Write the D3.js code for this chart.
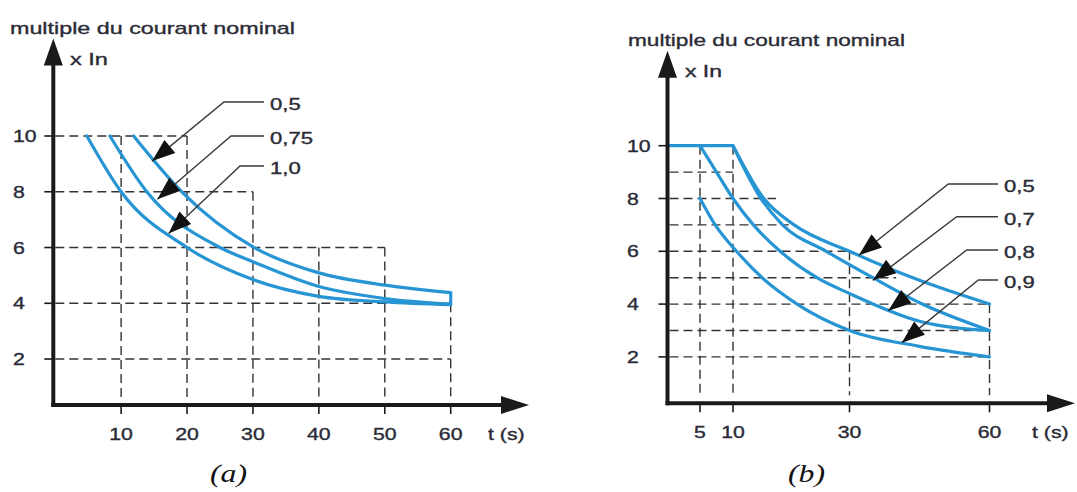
<!DOCTYPE html>
<html>
<head>
<meta charset="utf-8">
<script src="https://cdn.jsdelivr.net/npm/d3@7"></script>
<style>
    body { margin: 0; background: #fff; }
    svg { display: block; }
</style>
</head>
<body>
<div id="chart"></div>
<script>

// ---------- panel (a) ----------
const xTicksA = [10, 20, 30, 40, 50, 60];
const yTicksA = [2, 4, 6, 8, 10];
const labelsA = ["0,5", "0,75", "1,0"];
// [t (s), multiple of In]
const curveA05  = [[11.9, 10], [19.2, 8], [30.2, 6], [40, 5.09], [50, 4.65], [60, 4.38]];
const curveA075 = [[8.3, 10], [13.9, 8], [25, 6], [30, 5.49], [40, 4.6], [50, 4.17], [60, 3.97]];
const curveA10  = [[4.8, 10], [10, 8], [20, 6], [30, 4.85], [40, 4.25], [50, 4.05], [60, 3.95]];
// arrow tips on each curve
const tipsA = [[14.7, 9.1], [15.5, 7.73], [17.2, 6.5]];
// dashed guides: [value, t where it stops] and [t, value where it starts]
const hGridA = [[10, 20], [8, 30], [6, 50], [4, 60], [2, 60]];
const vGridA = [[10, 10], [20, 10], [30, 8], [40, 6], [50, 6], [60, 4]];

// ---------- panel (b) ----------
const xTicksB = [5, 10, 30, 60];
const yTicksB = [2, 4, 6, 8, 10];
const labelsB = ["0,5", "0,7", "0,8", "0,9"];
const plateauB = [[0, 10], [10, 10]];
const curveB05 = [[10, 10], [15.3, 8], [20.5, 7], [30, 6], [45, 4.9], [60, 4]];
const curveB07 = [[10, 10], [14.8, 8], [18.5, 7], [26, 6], [35, 5], [45, 4.05], [60, 3]];
const curveB08 = [[5, 10], [7.5, 9], [10, 8], [13.5, 7], [18.1, 6], [24.4, 5], [30, 4.4], [45, 3.35], [60, 3]];
const curveB09 = [[5, 8], [7.3, 7], [10.6, 6], [15, 5], [21, 4], [30, 3], [45, 2.4], [60, 2]];
const tipsB = [[32, 5.85], [35, 4.9], [38.3, 3.75], [41.2, 2.54]];
const hGridB = [[9, 10], [8, 17.4], [7, 19.6], [6, 30], [5, 40], [4, 60], [3, 60], [2, 60]];
const vGridB = [[5, 10], [10, 10], [30, 6], [60, 4]];

const W = 1077, H = 492;
const BLUE = "#2795d4";
const INK = "#1a1a1a";
const TEXT = "#2b2b36";

const svg = d3.select("#chart").append("svg")
    .attr("width", W)
    .attr("height", H);

svg.append("rect").attr("width", W).attr("height", H).attr("fill", "#fff");

// text is horizontally stretched in the original figure
function addLabel(g, x, y, str, opt = {}) {
    let t = g.append("text").text(str)
        .style("font-size", (opt.size || 16) + "px")
        .style("font-family", "'Liberation Sans', Arial, sans-serif")
        .style("fill", TEXT)
        .style("stroke", TEXT)
        .style("stroke-width", 0.35);
    if (opt.length) {
        t.attr("x", x).attr("y", y)
            .attr("textLength", opt.length)
            .attr("lengthAdjust", "spacingAndGlyphs");
    } else {
        t.attr("transform", `translate(${x},${y}) scale(${opt.sx || 1.33},1)`)
            .attr("text-anchor", opt.anchor || "start");
    }
    if (opt.italic) {
        t.style("font-family", "'Liberation Serif', 'Times New Roman', serif")
            .style("font-style", "italic")
            .style("fill", "#111")
            .style("stroke", "none");
    }
    return t;
}

function arrowHead(g, x1, y1, x2, y2, len, half, color) {
    let a = Math.atan2(y2 - y1, x2 - x1);
    let bx = x2 - len * Math.cos(a), by = y2 - len * Math.sin(a);
    let nx = -Math.sin(a) * half, ny = Math.cos(a) * half;
    g.append("path")
        .attr("d", `M${x2},${y2}L${bx + nx},${by + ny}L${bx - nx},${by - ny}Z`)
        .attr("fill", color);
    return [bx, by];
}

function drawPanel(p) {
    let g = svg.append("g");
    let x = p.x, y = p.y;

    // dashed guides
    let grid = g.append("g")
        .attr("stroke", "#333")
        .attr("stroke-width", 1.4)
        .attr("stroke-dasharray", "9,5")
        .attr("fill", "none");

    grid.selectAll(".h").data(p.hGrid).enter().append("line")
        .attr("x1", p.axisX + 2)
        .attr("x2", d => x(d[1]))
        .attr("y1", d => y(d[0]))
        .attr("y2", d => y(d[0]));

    grid.selectAll(".v").data(p.vGrid).enter().append("line")
        .attr("x1", d => x(d[0]))
        .attr("x2", d => x(d[0]))
        .attr("y1", d => y(d[1]))
        .attr("y2", p.axisY - 8);

    // curves
    let line = d3.line().x(d => x(d[0])).y(d => y(d[1])).curve(d3.curveMonotoneX);
    g.selectAll(".curve").data(p.curves).enter().append("path")
        .attr("d", line)
        .attr("fill", "none")
        .attr("stroke", BLUE)
        .attr("stroke-width", 3.2)
        .attr("stroke-linecap", "round");

    if (p.extra) {
        g.selectAll(".extra").data(p.extra).enter().append("path")
            .attr("d", d3.line().x(d => x(d[0])).y(d => y(d[1])))
            .attr("fill", "none")
            .attr("stroke", BLUE)
            .attr("stroke-width", 3.2);
    }

    // axes
    g.append("line")
        .attr("x1", p.axisX).attr("x2", p.axisX)
        .attr("y1", p.axisY + 2).attr("y2", p.yTip + 20)
        .attr("stroke", INK).attr("stroke-width", 4);
    g.append("path")
        .attr("d", `M${p.axisX},${p.yTip}L${p.axisX - 9.5},${p.yTip + 27}L${p.axisX + 9.5},${p.yTip + 27}Z`)
        .attr("fill", INK);

    g.append("line")
        .attr("x1", p.axisX - 2).attr("x2", p.xTip - 20)
        .attr("y1", p.axisY).attr("y2", p.axisY)
        .attr("stroke", INK).attr("stroke-width", 4);
    g.append("path")
        .attr("d", `M${p.xTip},${p.axisY}L${p.xTip - 28},${p.axisY - 9}L${p.xTip - 28},${p.axisY + 9}Z`)
        .attr("fill", INK);

    // ticks
    g.selectAll(".yt").data(p.yTicks).enter().append("line")
        .attr("x1", p.axisX - 9).attr("x2", p.axisX)
        .attr("y1", d => y(d)).attr("y2", d => y(d))
        .attr("stroke", INK).attr("stroke-width", 1.6);
    g.selectAll(".xt").data(p.xTicks).enter().append("line")
        .attr("x1", d => x(d)).attr("x2", d => x(d))
        .attr("y1", p.axisY).attr("y2", p.axisY + 9)
        .attr("stroke", INK).attr("stroke-width", 1.6);

    p.yTicks.forEach(v => addLabel(g, p.yLabelX, y(v) + 6, String(v)));
    p.xTicks.forEach(v => addLabel(g, x(v), p.xLabelY, String(v), {anchor: "middle"}));
    addLabel(g, p.tLabelX, p.xLabelY, "t (s)");

    addLabel(g, p.titleX, p.titleY, "multiple du courant nominal", {size: 17, length: p.titleLen});
    addLabel(g, p.inX, p.inY, "x In", {size: 16.5, length: p.inLen});

    // leader lines with arrows pointing at each curve
    p.tips.forEach((tp, i) => {
        let k = p.knees[i];
        let tx = x(tp[0]), ty = y(tp[1]);
        g.append("path")
            .attr("d", `M${p.leadEnd},${k[1]}L${k[0]},${k[1]}L${tx},${ty}`)
            .attr("fill", "none")
            .attr("stroke", "#3a3a3a")
            .attr("stroke-width", 1.4);
        arrowHead(g, k[0], k[1], tx, ty, 23, 8.5, "#111");
        addLabel(g, p.leadEnd + 6, k[1] + 8, p.labels[i], {sx: 1.38});
    });

    addLabel(g, p.capX, 482, p.caption, {size: 25, italic: true, length: 37});
}

// panel (a)
drawPanel({
    x: d3.scaleLinear().domain([0, 60]).range([55.2, 450.7]),
    y: d3.scaleLinear().domain([0, 10]).range([414.8, 136]),
    axisX: 53.3, axisY: 405, yTip: 38.5, xTip: 529,
    xTicks: xTicksA, yTicks: yTicksA,
    hGrid: hGridA, vGrid: vGridA,
    curves: [curveA05, curveA075, curveA10],
    extra: [[curveA05[curveA05.length - 1], curveA10[curveA10.length - 1]]],
    yLabelX: 13, xLabelY: 440, tLabelX: 488,
    titleX: 10, titleY: 34, titleLen: 285,
    inX: 70, inY: 65, inLen: 38,
    tips: tipsA, labels: labelsA,
    knees: [[224, 102], [231, 136], [240, 166]], leadEnd: 264,
    caption: "(a)", capX: 210
});

// panel (b)
drawPanel({
    x: d3.scaleLinear().domain([0, 5, 10, 30, 60]).range([667.5, 700, 733, 849.5, 989.5]),
    y: d3.scaleLinear().domain([0, 10]).range([409.7, 145.7]),
    axisX: 667.5, axisY: 403.3, yTip: 50.7, xTip: 1075,
    xTicks: xTicksB, yTicks: yTicksB,
    hGrid: hGridB, vGrid: vGridB,
    curves: [curveB05, curveB07, curveB08, curveB09],
    extra: [plateauB],
    yLabelX: 627, xLabelY: 438, tLabelX: 1032,
    titleX: 628, titleY: 46, titleLen: 277,
    inX: 685, inY: 77, inLen: 37,
    tips: tipsB, labels: labelsB,
    knees: [[948.3, 184], [956.7, 216.7], [966.7, 250], [978.3, 280]], leadEnd: 998,
    caption: "(b)", capX: 788
});

</script>
</body>
</html>
